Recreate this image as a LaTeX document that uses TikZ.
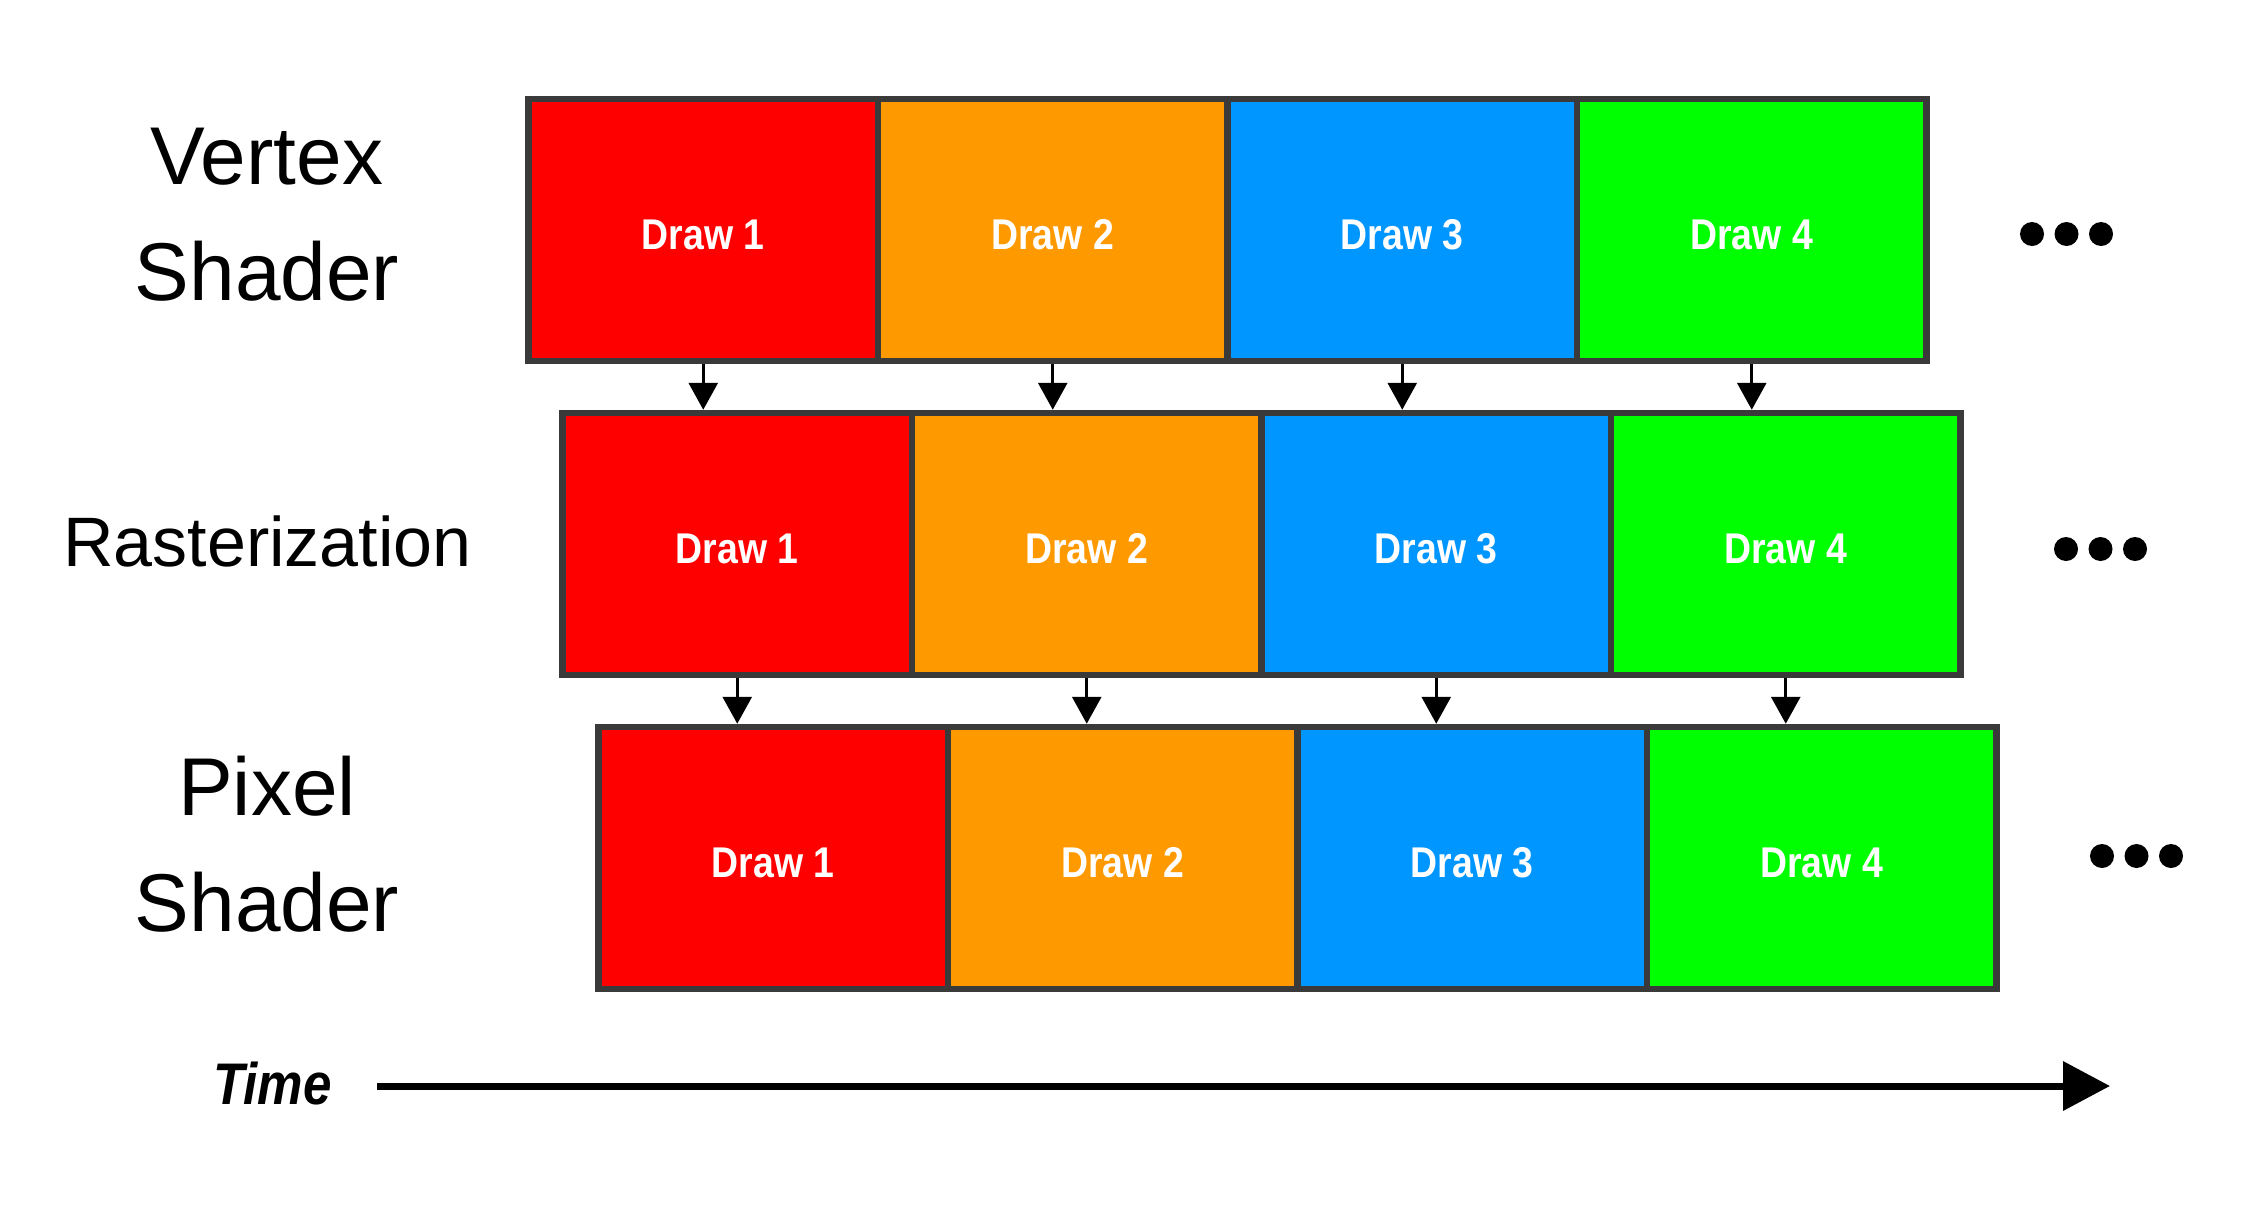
\documentclass[tikz,border=0pt]{standalone}
\usepackage{fontspec}
\usepackage{graphicx}
\setmainfont{Liberation Sans}
\usetikzlibrary{arrows.meta}
\definecolor{cred}{HTML}{FF0000}
\definecolor{corange}{HTML}{FF9900}
\definecolor{cblue}{HTML}{0096FF}
\definecolor{cgreen}{HTML}{00FF00}
\definecolor{borderc}{HTML}{3A3A3A}
\newcommand\dtext[1]{\raisebox{-5pt}[\height][\depth]{\scalebox{0.87}[1]{#1}}}
\begin{document}
\begin{tikzpicture}[x=1pt,y=-1pt,
  stagebox/.style={draw=borderc, line width=6.5pt, minimum width=349.5pt, minimum height=262pt,
    inner sep=0pt, text=white, font=\fontsize{43}{50}\selectfont\bfseries},
  flow/.style={line width=3pt, -{Triangle[length=27pt,width=29pt]}},
  stagelabel/.style={inner sep=0pt, align=center},
  dotc/.style={fill=black}
]
\useasboundingbox (0,0) rectangle (2252,1205);

\foreach \r/\dx/\cy/\dy in {1/0/230/4, 2/34/544/5, 3/70/858/-2} {
  \foreach \i/\c in {1/cred,2/corange,3/cblue,4/cgreen} {
    \node[stagebox, fill=\c] (r\r-\i) at ({703.25+(\i-1)*349.5+\dx}, \cy) {\dtext{Draw \i}};
  }
  \foreach \k in {0,1,2} {
    \fill[dotc] ({2032+\dx+\k*34.5}, {\cy+\dy}) circle (12);
  }
}

\foreach \i in {1,...,4} {
  \draw[flow] (r1-\i.south) -- (r1-\i.south |- r2-1.north);
  \draw[flow] (r2-\i.south) -- (r2-\i.south |- r3-1.north);
}

\node[stagelabel, anchor=north, font=\fontsize{82}{116}\selectfont] (vs) at (267,128) {Vertex\\Shader};
\node[stagelabel, anchor=base, font=\fontsize{70}{80}\selectfont] (ras) at (267.5,566) {Rasterization};
\node[stagelabel, anchor=north, font=\fontsize{82}{116}\selectfont] (ps) at (267,756) {Pixel\\Shader};

\node[inner sep=0pt, anchor=base, font=\fontsize{58.7}{66}\selectfont\bfseries\itshape] (time) at (272.5,1104) {\scalebox{0.87}[1]{Time}};
\coordinate (tstart) at (377,1086);
\coordinate (tend) at (2110,1086);
\draw[line width=7pt, -{Triangle[length=47pt,width=48pt]}] (tstart) -- (tend);
\end{tikzpicture}
\end{document}
